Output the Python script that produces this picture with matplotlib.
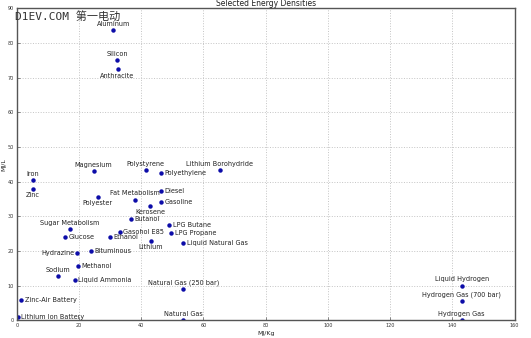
import matplotlib
matplotlib.use("Agg")
import matplotlib.pyplot as plt

names = ["Aluminum", "Silicon", "Anthracite", "Magnesium", "Polystyrene", "Lithium Borohydride",
         "Iron", "Zinc", "Polyethylene", "Polyester", "Fat Metabolism", "Diesel", "Gasoline",
         "Kerosene", "Butanol", "LPG Butane", "LPG Propane", "Gasohol E85", "Ethanol", "Lithium",
         "Liquid Natural Gas", "Sugar Metabolism", "Glucose", "Hydrazine", "Bituminous", "Methanol",
         "Sodium", "Liquid Ammonia", "Natural Gas (250 bar)", "Zinc-Air Battery",
         "Lithium Ion Battery", "Natural Gas", "Liquid Hydrogen", "Hydrogen Gas (700 bar)",
         "Hydrogen Gas"]
mj_kg = [31.0, 32.2, 32.4, 24.7, 41.4, 65.2,
         5.1, 5.1, 46.4, 26.0, 38.0, 46.3, 46.4,
         42.8, 36.6, 49.1, 49.7, 33.1, 30.0, 43.1,
         53.6, 17.0, 15.5, 19.5, 24.0, 19.7,
         13.3, 18.6, 53.6, 1.5,
         0.46, 53.6, 143.0, 143.0,
         143.0]
mj_l = [83.8, 75.0, 72.4, 43.0, 43.4, 43.4,
        40.4, 37.9, 42.6, 35.6, 34.8, 37.2, 34.2,
        33.0, 29.2, 27.6, 25.3, 25.6, 24.0, 23.0,
        22.2, 26.2, 23.9, 19.3, 20.0, 15.6,
        12.8, 11.5, 9.0, 5.9,
        0.9, 0.036, 10.0, 5.6,
        0.01]
placement = ["above", "above", "below", "above", "above", "above",
             "above", "below", "right", "below", "above", "right", "right",
             "below", "right", "right", "right", "right", "right", "below",
             "right", "above", "right", "left", "right", "right",
             "above", "right", "above", "right",
             "right", "above", "above", "above",
             "above"]

fig = plt.figure(figsize=(5.31, 3.38), dpi=100)
ax = fig.add_axes([0.0315, 0.0524, 0.9375, 0.923])

ax.plot(mj_kg, mj_l, linestyle="none", marker="o", markersize=3.2,
        color="#0c0ca8", markeredgewidth=0)

offsets = {"above": ((0, 2.3), "center", "bottom"),
           "below": ((0, -2.3), "center", "top"),
           "right": ((2.4, 0), "left", "center"),
           "left": ((-2.4, 0), "right", "center")}
for n, x, y, p in zip(names, mj_kg, mj_l, placement):
    off, ha, va = offsets[p]
    ax.annotate(n, (x, y), xytext=off, textcoords="offset points",
                ha=ha, va=va, fontsize=4.7, color="#222222")

ax.set_xlim(0, 160)
ax.set_ylim(0, 90)
ax.set_xticks(range(0, 161, 20))
ax.set_yticks(range(0, 91, 10))
ax.tick_params(labelsize=3.5, direction="in", length=2, width=0.5, pad=2,
               labelcolor="#333333", color="#555555")
ax.grid(True, linestyle=":", color="#c4c4c4", linewidth=0.7)
for s in ax.spines.values():
    s.set_linewidth(1.0)
    s.set_color("#555555")

ax.set_title("Selected Energy Densities", fontsize=5.5, pad=1.5, color="#222222")
ax.set_xlabel("MJ/Kg", fontsize=4.5, labelpad=2, color="#222222")
ax.set_ylabel("MJ/L", fontsize=4.5, labelpad=1, color="#222222")

fig.text(15 / 531, 1 - 16 / 338, "D1EV.COM 第一电动", fontsize=8,
         family=["DejaVu Sans Mono", "Noto Sans CJK SC"], color="#333333",
         va="center", ha="left", fontweight="light")

fig.savefig("out.png", dpi=100)
